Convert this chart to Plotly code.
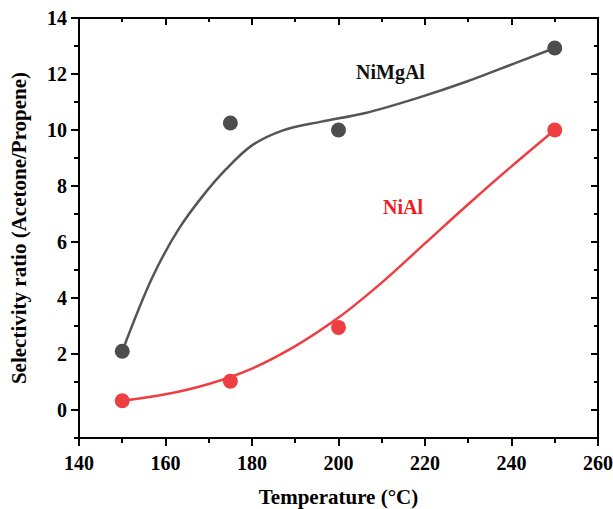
import plotly.graph_objects as go

temps = [150, 175, 200, 250]
nimgal = [2.1, 10.25, 10.0, 12.93]
nial = [0.33, 1.03, 2.95, 10.0]

# smoothed curves
nimgal_curve_x = [150, 157.0, 163.0, 168.5, 174.0, 180.0, 187.0, 196.0, 206.0, 218.0, 230.0, 241.0, 250]
nimgal_curve_y = [2.1, 4.75, 6.45, 7.62, 8.60, 9.45, 9.98, 10.30, 10.60, 11.13, 11.75, 12.40, 12.93]
nial_curve_x = [150, 160.0, 170.0, 180.0, 190.0, 200.0, 210.0, 220.0, 230.0, 240.0, 250]
nial_curve_y = [0.33, 0.56, 0.93, 1.48, 2.28, 3.30, 4.55, 5.95, 7.35, 8.70, 10.0]

grey = "#4d4d4d"
red = "#ef3e42"
font = "Liberation Serif"

fig = go.Figure()
fig.add_trace(go.Scatter(x=nimgal_curve_x, y=nimgal_curve_y, mode="lines",
                         line=dict(color="#555555", width=2.5, shape="spline", smoothing=1.0),
                         hoverinfo="skip", showlegend=False))
fig.add_trace(go.Scatter(x=nial_curve_x, y=nial_curve_y, mode="lines",
                         line=dict(color=red, width=2.5, shape="spline", smoothing=1.0),
                         hoverinfo="skip", showlegend=False))
fig.add_trace(go.Scatter(x=temps, y=nimgal, mode="markers", name="NiMgAl",
                         marker=dict(color=grey, size=15), showlegend=False))
fig.add_trace(go.Scatter(x=temps, y=nial, mode="markers", name="NiAl",
                         marker=dict(color=red, size=15), showlegend=False))
fig.add_trace(go.Scatter(x=temps, y=nial, xaxis="x2", yaxis="y2", mode="markers",
                         marker=dict(color="rgba(0,0,0,0)", size=1), hoverinfo="skip", showlegend=False))

fig.add_annotation(x=212, y=12.05, text="<b>NiMgAl</b>", showarrow=False,
                   font=dict(family=font, size=20, color="#111111"))
fig.add_annotation(x=215, y=7.25, text="<b>NiAl</b>", showarrow=False,
                   font=dict(family=font, size=20, color="#ee1c1c"))

# plot frame
fig.add_shape(type="rect", xref="paper", yref="paper", x0=0, x1=1, y0=0, y1=1,
              line=dict(color="black", width=2), fillcolor="rgba(0,0,0,0)", layer="above")

axis_common = dict(showgrid=False, zeroline=False, showline=False,
                   tickcolor="black", tickwidth=2)

fig.update_layout(
    width=613, height=509,
    margin=dict(l=79, r=15, t=18, b=71, autoexpand=False),
    paper_bgcolor="white", plot_bgcolor="white",
    font=dict(family=font, size=20, color="black"),
    xaxis=dict(range=[140, 260], dtick=20, ticks="outside", ticklen=7,
               minor=dict(ticks="outside", ticklen=4, dtick=10, tickcolor="black", tickwidth=2),
               title=dict(text="<b>Temperature (°C)</b>", font=dict(family=font, size=21), standoff=20),
               tickfont=dict(family=font, size=20, weight="bold"),
               **axis_common),
    yaxis=dict(range=[-1, 14], tickvals=[0, 2, 4, 6, 8, 10, 12, 14], ticks="outside", ticklen=7,
               minor=dict(ticks="outside", ticklen=4, dtick=1, tickcolor="black", tickwidth=2),
               title=dict(text="<b>Selectivity ratio (Acetone/Propene)</b>", font=dict(family=font, size=21), standoff=14),
               tickfont=dict(family=font, size=20, weight="bold"),
               **axis_common),
    xaxis2=dict(range=[140, 260], overlaying="x", side="top", tickvals=[140, 160, 180, 200, 220, 240, 260],
                ticks="inside", ticklen=7, showticklabels=False,
                minor=dict(ticks="inside", ticklen=4, tickvals=[150, 170, 190, 210, 230, 250], tickcolor="black", tickwidth=2),
                **axis_common),
    yaxis2=dict(range=[-1, 14], overlaying="y", side="right", tickvals=[0, 2, 4, 6, 8, 10, 12, 14],
                ticks="inside", ticklen=7, showticklabels=False,
                minor=dict(ticks="inside", ticklen=4, dtick=1, tickcolor="black", tickwidth=2),
                **axis_common),
)

fig.write_html("out.html", config={"displayModeBar": False},
               post_script="document.body.style.margin='0';document.body.style.overflow='hidden';")
